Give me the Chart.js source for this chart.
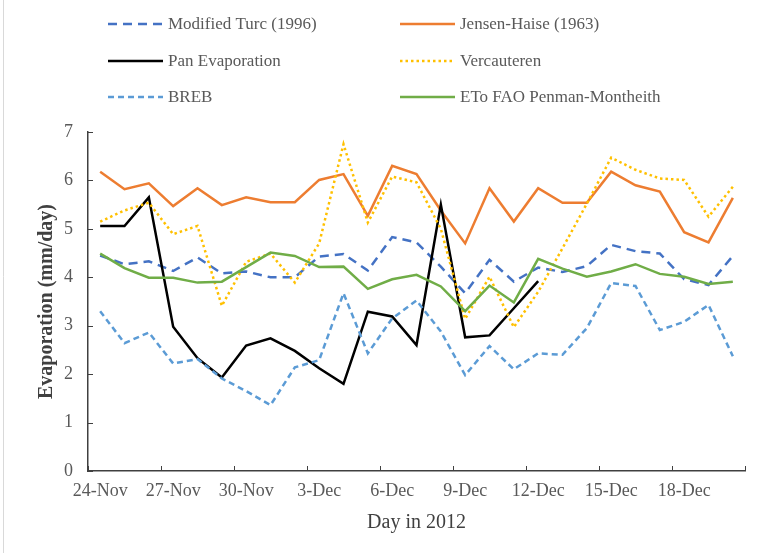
<!DOCTYPE html>
<html>
<head>
<meta charset="utf-8">
<title>Evaporation</title>
<script src="https://cdn.jsdelivr.net/npm/chart.js@4.4.0/dist/chart.umd.min.js"></script>
<style>
  html, body { margin: 0; padding: 0; background: #fff; }
  #wrap { width: 771px; height: 553px; }
</style>
</head>
<body>
<div id="wrap"><canvas id="grafico" width="771" height="553"></canvas></div>
<script>
// days of the record (one point per day), label shown every third day
const days = ['24-Nov', '25-Nov', '26-Nov', '27-Nov', '28-Nov', '29-Nov', '30-Nov',
  '1-Dec', '2-Dec', '3-Dec', '4-Dec', '5-Dec', '6-Dec', '7-Dec', '8-Dec', '9-Dec',
  '10-Dec', '11-Dec', '12-Dec', '13-Dec', '14-Dec', '15-Dec', '16-Dec', '17-Dec',
  '18-Dec', '19-Dec', '20-Dec'];
const labelEvery = 3;

// evaporation, mm/day
const modifiedTurc = [4.45, 4.27, 4.33, 4.13, 4.41, 4.08, 4.12, 4.00, 4.00, 4.43, 4.48, 4.14, 4.83, 4.72,
  4.22, 3.67, 4.36, 3.91, 4.20, 4.11, 4.23, 4.67, 4.54, 4.49, 3.96, 3.84, 4.44];
const jensenHaise = [6.18, 5.82, 5.94, 5.47, 5.84, 5.49, 5.65, 5.55, 5.55, 6.01, 6.13, 5.27, 6.30, 6.13,
  5.38, 4.70, 5.84, 5.15, 5.84, 5.54, 5.54, 6.18, 5.90, 5.77, 4.93, 4.72, 5.64];
const panEvaporation = [5.06, 5.06, 5.65, 2.98, 2.33, 1.93, 2.59, 2.74, 2.48, 2.12, 1.80, 3.29, 3.19, 2.60,
  5.50, 2.76, 2.80, 3.36, 3.92];
const vercauteren = [5.15, 5.38, 5.54, 4.89, 5.06, 3.41, 4.32, 4.49, 3.89, 4.70, 6.75, 5.13, 6.08, 5.96,
  5.00, 3.14, 4.01, 2.97, 3.70, 4.60, 5.52, 6.47, 6.22, 6.04, 6.01, 5.25, 5.87];
const breb = [3.30, 2.64, 2.86, 2.22, 2.31, 1.91, 1.65, 1.36, 2.14, 2.29, 3.67, 2.43, 3.15, 3.52,
  2.88, 1.98, 2.58, 2.10, 2.43, 2.40, 2.95, 3.88, 3.82, 2.91, 3.08, 3.43, 2.37];
const etoFao = [4.49, 4.19, 3.99, 3.99, 3.89, 3.91, 4.21, 4.51, 4.44, 4.21, 4.22, 3.76, 3.96, 4.05,
  3.81, 3.30, 3.83, 3.48, 4.38, 4.18, 4.01, 4.12, 4.27, 4.07, 4.01, 3.86, 3.91];

const yMin = 0;
const yMax = 7;
const yStep = 1;

const FONTE = '"Liberation Serif", "Times New Roman", serif';
const CINZA = '#595959';
const EIXO = '#404040';

const series = [
  { label: 'Modified Turc (1996)', data: modifiedTurc, color: '#4472C4', dash: [9, 6] },
  { label: 'Jensen-Haise (1963)', data: jensenHaise, color: '#ED7D31', dash: [] },
  { label: 'Pan Evaporation', data: panEvaporation, color: '#000000', dash: [] },
  { label: 'Vercauteren', data: vercauteren, color: '#FFC000', dash: [2.5, 3] },
  { label: 'BREB', data: breb, color: '#5B9BD5', dash: [6, 4] },
  { label: 'ETo FAO Penman-Montheith', data: etoFao, color: '#70AD47', dash: [] }
];

// legend in two columns, three rows above the plot
const legendaGrelha = {
  id: 'legendaGrelha',
  afterDraw(chart) {
    const ctx = chart.ctx;
    const colX = [108, 400];
    const rowY = [24, 61, 97];
    chart.data.datasets.forEach((ds, i) => {
      const x = colX[i % 2];
      const y = rowY[Math.floor(i / 2)];
      ctx.save();
      ctx.strokeStyle = ds.borderColor;
      ctx.lineWidth = ds.borderWidth;
      ctx.setLineDash(ds.borderDash || []);
      ctx.beginPath();
      ctx.moveTo(x, y);
      ctx.lineTo(x + 55, y);
      ctx.stroke();
      ctx.setLineDash([]);
      ctx.fillStyle = CINZA;
      ctx.font = '17px ' + FONTE;
      ctx.textBaseline = 'middle';
      ctx.fillText(ds.label, x + 60, y + 1);
      ctx.restore();
    });
  }
};

// short tick marks pointing into the plot, plus the chart frame edge
const marcasInternas = {
  id: 'marcasInternas',
  beforeDraw(chart) {
    const ctx = chart.ctx;
    ctx.save();
    ctx.fillStyle = '#fff';
    ctx.fillRect(0, 0, chart.width, chart.height);
    ctx.strokeStyle = '#D9D9D9';
    ctx.lineWidth = 1;
    ctx.beginPath();
    ctx.moveTo(3.5, 0);
    ctx.lineTo(3.5, chart.height);
    ctx.stroke();
    ctx.restore();
  },
  afterDraw(chart) {
    const { ctx, chartArea } = chart;
    const x = chart.scales.x;
    const y = chart.scales.y;
    const passo = x.getPixelForValue(1) - x.getPixelForValue(0);
    ctx.save();
    ctx.strokeStyle = EIXO;
    ctx.lineWidth = 1;
    ctx.beginPath();
    for (let i = 0; i <= days.length; i += labelEvery) {
      const px = Math.round(x.getPixelForValue(0) - passo / 2 + i * passo) + 0.5;
      ctx.moveTo(px, chartArea.bottom);
      ctx.lineTo(px, chartArea.bottom - 5);
    }
    y.ticks.forEach(t => {
      const py = Math.round(y.getPixelForValue(t.value)) + 0.5;
      ctx.moveTo(chartArea.left, py);
      ctx.lineTo(chartArea.left + 5, py);
    });
    ctx.stroke();
    ctx.restore();
  }
};

new Chart(document.getElementById('grafico'), {
  type: 'line',
  data: {
    labels: days,
    datasets: series.map((s, i) => ({
      label: s.label,
      data: s.data,
      borderColor: s.color,
      backgroundColor: s.color,
      borderWidth: 2.5,
      borderDash: s.dash,
      pointRadius: 0,
      tension: 0,
      fill: false,
      order: series.length - 1 - i
    }))
  },
  options: {
    responsive: false,
    animation: false,
    devicePixelRatio: 1,
    layout: { padding: { top: 132, right: 26, left: 0, bottom: 0 } },
    plugins: {
      legend: { display: false },
      tooltip: { enabled: false }
    },
    scales: {
      x: {
        offset: true,
        afterFit(scale) { scale.height = 82; },
        grid: { display: false, drawTicks: false },
        border: { display: true, color: EIXO, width: 1.5 },
        ticks: {
          autoSkip: false,
          maxRotation: 0,
          padding: 9,
          color: CINZA,
          font: { family: FONTE, size: 18 },
          callback: (v, i) => (i % labelEvery === 0 ? days[i] : '')
        },
        title: {
          display: true,
          text: 'Day in 2012',
          color: EIXO,
          font: { family: FONTE, size: 20 },
          padding: { top: 0, bottom: 18 }
        }
      },
      y: {
        min: yMin,
        max: yMax,
        afterFit(scale) { scale.width = 88; },
        grid: { display: false, drawTicks: false },
        border: { display: true, color: EIXO, width: 1.5 },
        ticks: {
          stepSize: yStep,
          padding: 15,
          color: CINZA,
          font: { family: FONTE, size: 18 }
        },
        title: {
          display: true,
          text: 'Evaporation (mm/day)',
          color: EIXO,
          font: { family: FONTE, size: 20, weight: 'bold' },
          padding: { top: 35, bottom: 0 }
        }
      }
    }
  },
  plugins: [legendaGrelha, marcasInternas]
});
</script>
</body>
</html>
